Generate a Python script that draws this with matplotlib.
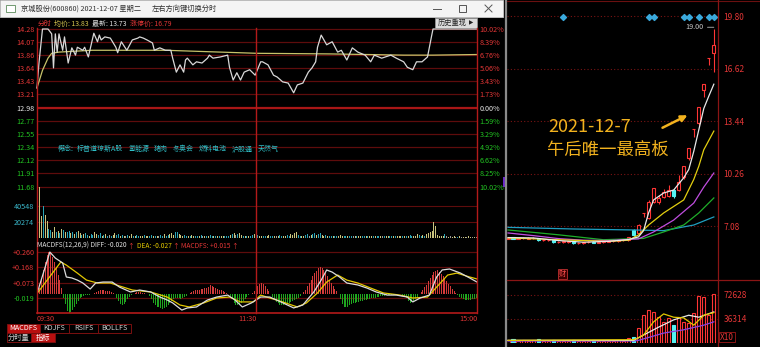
import matplotlib.pyplot as plt
import numpy as np
from matplotlib.patches import Rectangle

plt.rcParams['font.family'] = ['Noto Sans CJK SC', 'DejaVu Sans']
plt.rcParams['axes.unicode_minus'] = False

# ---------------- intraday data (minute 0 = 09:30, 240 = 15:00) ----------------
pre_close = 12.98
price_t = [0, 1, 3, 6, 8, 9, 10, 11, 12, 14, 15, 17, 19, 21, 22, 25, 26, 28, 31, 33,
           34, 35, 37, 40, 43, 44, 46, 49, 52, 55, 56, 58, 60, 63, 64, 67, 70, 73, 74, 76,
           78, 80, 81, 82, 85, 87, 90, 93, 94, 96, 100, 104, 105, 107, 109, 111, 113, 116, 119, 122,
           123, 126, 129, 131, 134, 137, 140, 142, 145, 148, 150, 152, 153, 155, 158, 161, 164, 166, 169, 172,
           175, 179, 182, 184, 188, 193, 196, 200, 202, 205, 207, 210, 213, 215, 216, 240]
price_v = [13.31, 13.70, 14.28, 14.28, 14.20, 13.64, 14.20, 13.90, 14.20, 13.93, 14.15, 13.72, 13.97, 13.85, 13.98, 13.93, 13.98, 13.82, 14.21, 14.07,
           14.18, 14.10, 14.15, 14.13, 13.98, 13.89, 14.07, 13.93, 14.10, 14.13, 14.15, 14.13, 14.10, 14.05, 13.93, 13.97, 13.93, 13.93, 13.80, 13.57,
           13.69, 13.57, 13.77, 13.80, 13.69, 13.74, 13.72, 13.80, 13.85, 13.80, 13.82, 13.85, 13.65, 13.44, 13.56, 13.44, 13.57, 13.61, 13.52, 13.74,
           13.74, 13.69, 13.52, 13.49, 13.41, 13.39, 13.23, 13.36, 13.39, 13.57, 13.64, 13.74, 13.98, 14.18, 14.02, 14.07, 13.90, 13.93, 13.77, 13.97,
           13.90, 13.85, 13.74, 13.85, 13.80, 13.85, 13.80, 13.74, 13.65, 13.61, 13.74, 13.74, 13.82, 14.13, 14.28, 14.28]
avg_t = [0, 3, 6, 8, 12, 30, 70, 120, 160, 200, 216, 240]
avg_v = [13.31, 13.60, 13.80, 13.88, 13.90, 13.93, 13.93, 13.88, 13.87, 13.85, 13.85, 13.86]

# minute volume, thousands
vol = [20, 64, 28, 41, 29, 22, 12, 10, 8, 14, 7, 9, 6, 12, 10, 8, 7, 9, 6, 8,
       5, 7, 9, 6, 4, 5, 6, 4, 3, 5, 4, 7, 5, 4, 6, 3, 4, 5, 3, 4,
       3, 4, 6, 4, 5, 3, 4, 2, 3, 4, 3, 5, 2, 3, 4, 3, 2, 3, 4, 2,
       3, 2, 4, 3, 2, 3, 2, 4, 3, 5, 3, 4, 5, 6, 4, 7, 8, 5, 4, 3,
       4, 3, 2, 3, 4, 2, 3, 2, 3, 4, 2, 3, 3, 2, 4, 3, 2, 3, 2, 3,
       2, 3, 2, 3, 2, 4, 5, 6, 4, 5, 6, 4, 3, 2, 3, 2, 3, 4, 5, 7,
       4, 3, 2, 3, 2, 3, 4, 2, 3, 2, 3, 2, 4, 3, 2, 3, 4, 3, 5, 4,
       6, 7, 4, 3, 2, 3, 4, 5, 3, 4, 5, 6, 4, 5, 6, 4, 3, 4, 3, 2,
       3, 2, 3, 2, 3, 4, 2, 3, 2, 3, 2, 2, 3, 2, 3, 2, 3, 2, 2, 3,
       2, 3, 2, 2, 3, 2, 2, 3, 2, 3, 2, 2, 3, 2, 2, 3, 2, 2, 3, 2,
       2, 3, 2, 4, 3, 2, 3, 5, 4, 3, 4, 3, 5, 6, 7, 9, 20, 15, 4, 2,
       3, 2, 5, 2, 1, 2, 1, 2, 1, 1, 2, 1, 1, 1, 1, 2, 1, 1, 1, 1]
vol_dir = "".join("""uuudu udduu dudud uddud uduud uddud duudd udude
duudd udued uudud duudu uddud ueddu dduuu dduuu
ddudu uddud eudud dudud uuddd udued uudud uddud
duudd uuddu euddu udduu uuddu uddeu ddudd uudud
duddu uuddu ddeud uuddu duudu ddued uuddu duuud
ududd uuudd uduuu uuuuu uudeu euued ueuue uueue""".split())

# MACD histogram (x 0.001), DIFF and DEA
macd_hist = [10, 40, 90, 150, 200, 240, 260, 255, 230, 200, 160, 120, 90, 40, -20, -60, -100, -117, -110, -95,
             -80, -60, -40, -25, -15, -8, -5, -3, -2, 2, 5, 10, 15, 20, 25, 28, 25, 22, 20, 18,
             15, 10, 5, -20, -40, -60, -67, -60, -45, -30, -15, -5, 5, 10, 12, 15, 12, 10, 8, 5,
             2, -10, -30, -50, -65, -75, -80, -85, -88, -85, -75, -65, -50, -40, -30, -25, -20, -25, -30, -20,
             -15, -10, 5, 10, 15, 20, 25, 28, 30, 32, 35, 38, 42, 48, 55, 52, 45, 40, 35, 30,
             25, 20, 15, 10, 5, -10, -30, -50, -65, -67, -60, -50, -40, -30, -15, -5, 5, 10, 20, 35,
             50, 65, 73, 65, 50, 35, 20, 5, -15, -30, -45, -55, -62, -67, -65, -60, -55, -50, -45, -40,
             -35, -30, -20, -10, 0, 15, 30, 50, 70, 90, 110, 130, 145, 160, 168, 165, 150, 130, 110, 90,
             70, 50, 35, 20, 5, -30, -60, -75, -80, -75, -65, -60, -55, -50, -45, -45, -40, -38, -35, -33,
             -30, -28, -25, -22, -20, -18, -15, -12, -10, -8, -5, -4, -3, -2, -1, 2, 3, 2, 1, -2,
             -10, -25, -40, -50, -48, -40, -30, -15, 5, 15, 30, 45, 60, 80, 100, 120, 135, 145, 150, 140,
             125, 110, 95, 80, 65, 50, 35, 20, 8, -5, -15, -25, -30, -33, -35, -35, -33, -30, -28, -25]
diff_t = [0, 7, 10, 14, 16, 19, 22, 25, 29, 32, 36, 41, 45, 51, 56, 62, 67, 71, 74, 79,
          82, 87, 93, 98, 104, 108, 112, 117, 122, 127, 133, 140, 145, 151, 155, 158, 161, 165, 169, 175,
          180, 185, 191, 196, 202, 205, 209, 214, 218, 221, 225, 231, 236, 240]
diff_v = [0.005, 0.260, 0.223, 0.193, 0.107, 0.101, 0.088, 0.070, 0.033, 0.070, 0.076, 0.076, 0.045, 0.015, 0.027, 0.015, -0.016, -0.034, -0.052, -0.096,
          -0.083, -0.077, -0.034, -0.016, -0.004, -0.034, -0.077, -0.052, -0.016, -0.016, -0.046, -0.083, -0.065, 0.015, 0.088, 0.150, 0.137, 0.107, 0.070, 0.058,
          0.039, 0.015, -0.004, -0.004, -0.016, -0.046, -0.022, -0.004, 0.107, 0.150, 0.156, 0.131, 0.101, 0.076]
dea_t = [0, 13, 16, 22, 27, 33, 40, 45, 52, 62, 71, 78, 83, 91, 98, 105, 111, 118, 122, 127,
         134, 142, 147, 153, 158, 164, 169, 175, 182, 189, 198, 205, 213, 218, 224, 229, 236, 240]
dea_v = [0.005, 0.199, 0.180, 0.131, 0.088, 0.070, 0.070, 0.052, 0.027, 0.015, -0.016, -0.065, -0.077, -0.052, -0.022, -0.016, -0.046, -0.046, -0.004, -0.022,
         -0.046, -0.077, -0.052, 0.009, 0.076, 0.119, 0.088, 0.070, 0.039, 0.009, -0.004, -0.022, -0.016, 0.045, 0.119, 0.131, 0.107, 0.095]

price_ticks = [14.28, 14.07, 13.86, 13.64, 13.43, 13.21, 12.98, 12.77, 12.55, 12.34, 12.12, 11.91, 11.68]
pct_labels = ['10.02%', '8.39%', '6.76%', '5.06%', '3.43%', '1.73%', '0.00%',
              '1.59%', '3.29%', '4.92%', '6.62%', '8.25%', '10.02%']
vol_ticks = [20.274, 40.548]
vol_labels = ['20274', '40548']
macd_ticks = [0.260, 0.168, 0.073, -0.019]
macd_labels = ['+0.260', '+0.168', '+0.073', '-0.019']

# ---------------- daily k-line data ----------------
k_open = [6.30, 6.40, 6.31, 6.34, 6.32, 6.35, 6.37, 6.21, 6.24, 6.25, 6.10, 6.13, 6.11, 6.15, 6.03, 6.07, 6.09, 6.14, 6.08, 6.12, 6.14,
          6.16, 6.18, 6.21, 6.24, 6.84, 6.66, 7.85, 7.56, 8.53, 8.52, 8.84, 8.90, 9.26, 9.27, 10.05, 11.20, 12.98, 13.33, 15.32, 17.28, 17.56]
k_high = [6.42, 6.43, 6.38, 6.41, 6.40, 6.39, 6.38, 6.28, 6.29, 6.26, 6.17, 6.20, 6.18, 6.16, 6.10, 6.12, 6.16, 6.20, 6.15, 6.18, 6.20,
          6.22, 6.25, 6.28, 6.42, 6.92, 7.19, 7.85, 8.64, 9.40, 8.95, 9.30, 9.56, 9.35, 10.15, 10.73, 11.80, 12.98, 14.28, 15.71, 17.28, 19.00]
k_low = [6.27, 6.28, 6.27, 6.30, 6.29, 6.28, 6.20, 6.17, 6.18, 6.08, 6.05, 6.08, 6.06, 6.00, 5.99, 6.02, 6.05, 6.05, 6.04, 6.08, 6.10,
         6.11, 6.14, 6.17, 6.20, 6.50, 6.60, 7.63, 7.48, 8.45, 8.40, 8.78, 8.82, 8.80, 9.20, 9.95, 11.10, 12.50, 13.20, 14.90, 16.83, 16.40]
k_close = [6.38, 6.31, 6.35, 6.37, 6.36, 6.37, 6.22, 6.25, 6.26, 6.10, 6.14, 6.16, 6.15, 6.03, 6.08, 6.10, 6.13, 6.08, 6.12, 6.15, 6.17,
           6.19, 6.22, 6.24, 6.39, 6.54, 7.14, 7.85, 8.53, 9.38, 8.78, 9.14, 9.26, 8.87, 9.75, 10.73, 11.80, 12.98, 14.28, 15.71, 17.28, 18.04]
k_vol = [4, 6, 3, 4, 3, 4, 6, 3, 3, 5, 3, 3, 3, 5, 3, 3, 3, 5, 3, 3, 3,
         3, 4, 3, 7, 9, 22, 42, 50, 47, 39, 32, 38, 27, 39, 32, 30, 45, 71, 70, 42, 74]
ma5_pts = [(0, 6.38), (5, 6.36), (10, 6.20), (15, 6.10), (20, 6.15), (24, 6.26), (26, 6.42), (27, 6.80), (28, 7.87),
           (29, 8.66), (31, 9.08), (33, 9.26), (35, 10.0), (36, 10.5), (37, 11.6), (38, 12.9), (39, 14.2), (40, 14.95), (41, 15.67)]
ma10_pts = [(0, 6.36), (10, 6.25), (20, 6.15), (24, 6.22), (26, 6.54), (28, 7.14), (31, 7.87), (35, 8.66), (37, 9.9),
            (38, 10.7), (39, 11.7), (41, 12.83)]
ma20_pts = [(0, 6.66), (5, 6.50), (10, 6.32), (15, 6.22), (20, 6.20), (26, 6.30), (29, 6.72), (33, 7.44), (37, 8.47),
            (39, 9.44), (41, 10.29)]
ma30_pts = [(0, 6.84), (10, 6.55), (19, 6.25), (27, 6.33), (31, 6.72), (35, 7.14), (38, 7.87), (41, 8.78)]
ma60_pts = [(0, 7.00), (13, 6.90), (25, 6.84), (31, 6.80), (37, 7.14), (41, 7.63)]
vma5_pts = [(0, 4), (25, 5), (26, 8), (27, 12), (29, 32), (31, 44), (33, 39), (35, 38), (37, 27), (39, 42), (41, 46)]
vma10_pts = [(0, 4), (25, 4), (26, 8), (30, 24), (33, 35), (36, 42), (38, 39), (41, 47)]
vma20_pts = [(0, 3), (25, 3), (26, 4), (31, 15), (35, 20), (39, 27), (41, 32)]
signal_idx = [11, 28, 29, 35, 36, 38, 40, 41]
k_ticks = [19.80, 16.62, 13.44, 10.26, 7.08]
kv_ticks = [72.628, 36.314]

# ---------------- figure ----------------
W, H = 760, 347
fig = plt.figure(figsize=(7.6, 3.47), dpi=100, facecolor='black')
FS = 5.2
GRID = '#5e0c0c'
FRAME = '#b31a1a'
UPR = '#e23636'
DNG = '#22c322'


def box(x0, y0, x1, y1):
    return [x0 / W, 1 - y1 / H, (x1 - x0) / W, (y1 - y0) / H]


def clean(ax):
    for s in ax.spines.values():
        s.set_visible(False)
    ax.set_xticks([])
    ax.tick_params(axis='y', length=0, pad=2, labelsize=FS)


# intraday price
ax_p = fig.add_axes(box(37, 29, 477, 187), facecolor='none')
ax_p.set_xlim(0, 240)
ax_p.set_ylim(11.68, 14.28)
for v in price_ticks:
    ax_p.axhline(v, color=GRID, lw=0.9, zorder=0, clip_on=False)
ax_p.axhline(pre_close, color='#a81616', lw=1.6, zorder=0)
ax_p.plot(avg_t, avg_v, color='#c8c36a', lw=0.9, clip_on=False)
ax_p.plot(price_t, price_v, color='#d8d8d8', lw=0.9, clip_on=False)
clean(ax_p)
ax_p.set_yticks(price_ticks)
ax_p.set_yticklabels(['%.2f' % v for v in price_ticks])
pcol = [UPR] * 6 + ['#e8e8e8'] + [DNG] * 6
for lab, c in zip(ax_p.get_yticklabels(), pcol):
    lab.set_color(c)
ax_r = ax_p.twinx()
ax_r.set_ylim(11.68, 14.28)
clean(ax_r)
ax_r.set_yticks(price_ticks)
ax_r.set_yticklabels(pct_labels)
for lab, c in zip(ax_r.get_yticklabels(), pcol):
    lab.set_color(c)

# intraday volume
ax_v = fig.add_axes(box(37, 187, 477, 238), facecolor='none')
ax_v.set_xlim(0, 240)
ax_v.set_ylim(0, 64.6)
for v in vol_ticks:
    ax_v.axhline(v, color=GRID, lw=0.8, zorder=0)
cmap = {'u': '#c9c27c', 'd': '#2aa3b5', 'e': '#9a9a9a'}
vcols = [cmap[c] for c, _ in zip(vol_dir, vol)]
ax_v.bar(np.arange(len(vcols)) + 0.5, vol[:len(vcols)], width=0.6, color=vcols)
clean(ax_v)
ax_v.set_yticks(vol_ticks)
ax_v.set_yticklabels(vol_labels, color='#3ab6c9')

# MACD
ax_m = fig.add_axes(box(37, 240, 477, 313), facecolor='none')
ax_m.set_xlim(0, 240)
ax_m.set_ylim(-0.114, 0.334)
for v in macd_ticks:
    ax_m.axhline(v, color=GRID, lw=0.9, zorder=0)
ax_m.axhline(-0.114, color=FRAME, lw=1.2, clip_on=False)
hist = np.array(macd_hist) / 1000.0
ax_m.bar(np.arange(len(hist)) + 0.5, hist, width=0.6,
         color=np.where(hist >= 0, '#d23a3a', '#1fa51f'))
ax_m.plot(dea_t, dea_v, color='#e3c800', lw=0.9)
ax_m.plot(diff_t, diff_v, color='#dcdcdc', lw=0.9)
clean(ax_m)
ax_m.set_yticks(macd_ticks)
ax_m.set_yticklabels(macd_labels)
for lab, c in zip(ax_m.get_yticklabels(), [UPR, UPR, UPR, DNG]):
    lab.set_color(c)
ax_m.text(0, -0.128, '09:30', color=UPR, fontsize=FS, ha='left', va='top')
ax_m.text(120, -0.128, '11:30', color=UPR, fontsize=FS, ha='right', va='top')
ax_m.text(240, -0.128, '15:00', color=UPR, fontsize=FS, ha='right', va='top')

# daily k-line
ax_k = fig.add_axes(box(507, 1, 718, 280), facecolor='none')
ax_k.set_xlim(-0.2, 41.83)
ax_k.set_ylim(3.81, 20.71)
for v in k_ticks:
    ax_k.axhline(v, color='#7a1414', lw=0.8, ls=(0, (1, 2)), zorder=0)
idx = np.arange(len(k_close))
up = np.array(k_close) >= np.array(k_open)
kcol = np.where(up, '#ff3535', '#54f2f2')
ax_k.vlines(idx, k_low, k_high, colors=kcol, lw=0.8, zorder=1)
ax_k.bar(idx, np.abs(np.array(k_close) - np.array(k_open)), bottom=np.minimum(k_open, k_close),
         width=0.62, facecolor=np.where(up, 'black', '#54f2f2'), edgecolor=kcol, lw=0.8, zorder=2)
for pts, c in [(ma60_pts, '#1f9fc0'), (ma30_pts, '#1fae2a'), (ma20_pts, '#c04ee0'),
               (ma10_pts, '#e3cf10'), (ma5_pts, '#e8e8e8')]:
    ax_k.plot([p[0] for p in pts], [p[1] for p in pts], color=c, lw=0.9, zorder=3)
ax_k.scatter(signal_idx, [19.72] * len(signal_idx), marker='D', s=9, color='#3aa9dc', zorder=4, clip_on=False)
ax_k.annotate('19.00', xy=(41, 19.12), xytext=(38.9, 19.12), color='#c8c8c8', fontsize=FS,
              ha='right', va='center',
              arrowprops=dict(arrowstyle='-', color='#bbbbbb', lw=0.6, shrinkA=1, shrinkB=0))
ax_k.text(10.9, 4.17, '财', color='#ff5050', fontsize=FS, ha='center', va='center',
          bbox=dict(boxstyle='square,pad=0.15', fc='#3a0000', ec='#c03030', lw=0.6))
for s in ax_k.spines.values():
    s.set_visible(False)
ax_k.set_xticks([])
ax_k.yaxis.tick_right()
ax_k.set_yticks(k_ticks)
ax_k.set_yticklabels(['%.2f' % v for v in k_ticks], color=UPR)
ax_k.tick_params(axis='y', length=0, pad=4, labelsize=6)

ax_kv = fig.add_axes(box(507, 280, 718, 343), facecolor='none')
ax_kv.set_xlim(-0.2, 41.83)
ax_kv.set_ylim(0, 95.3)
for v in kv_ticks:
    ax_kv.axhline(v, color='#7a1414', lw=0.8, ls=(0, (1, 2)), zorder=0)
kvi = np.arange(len(k_vol))
ax_kv.bar(kvi, k_vol, width=0.62, facecolor=np.where(up, 'black', '#54f2f2'), edgecolor=kcol, lw=0.8)
for pts, c in [(vma20_pts, '#8a44e0'), (vma10_pts, '#e8e8e8'), (vma5_pts, '#e3c800')]:
    ax_kv.plot([p[0] for p in pts], [p[1] for p in pts], color=c, lw=0.9)
for s in ax_kv.spines.values():
    s.set_visible(False)
ax_kv.set_xticks([])
ax_kv.yaxis.tick_right()
ax_kv.set_yticks(kv_ticks)
ax_kv.set_yticklabels(['72628', '36314'], color=UPR)
ax_kv.tick_params(axis='y', length=0, pad=4, labelsize=6)
ax_kv.text(1.01, 9, 'X10', transform=ax_kv.get_yaxis_transform(), color=UPR, fontsize=6,
           ha='left', va='center', bbox=dict(boxstyle='square,pad=0.1', fc='none', ec='#a01818', lw=0.6))

# ---------------- overlay: window chrome, labels, tabs ----------------
ov = fig.add_axes([0, 0, 1, 1], facecolor='none')
ov.set_xlim(0, W)
ov.set_ylim(H, 0)
ov.axis('off')
renderer = fig.canvas.get_renderer()


def run_text(x, y, parts, fs=FS):
    # lay coloured pieces out one after another on a line
    for s, c, g in parts:
        t = ov.text(x, y, s, color=c, fontsize=fs, va='center')
        x += t.get_window_extent(renderer).width + g


ov.add_patch(Rectangle((0, 0), 503, 17, fc='#f4f4f4', ec='#c8c8c8', lw=0.6))
ov.add_patch(Rectangle((6, 5), 9, 7, fc='#ffffff', ec='#5a8a5a', lw=0.6))
ov.text(21, 8.5, '京城股份(600860) 2021-12-07 星期二', color='#303030', fontsize=FS, va='center')
ov.text(152, 8.5, '左右方向键切换分时', color='#303030', fontsize=FS, va='center')
ov.plot([433, 441], [8.5, 8.5], color='#555555', lw=0.7)
ov.add_patch(Rectangle((459, 5), 7, 7, fc='none', ec='#555555', lw=0.7))
ov.plot([485, 492], [5, 12], color='#555555', lw=0.7)
ov.plot([485, 492], [12, 5], color='#555555', lw=0.7)

# frame lines
for x in (37, 256, 477):
    ov.plot([x, x], [28, 313], color=FRAME, lw=1.0)
ov.plot([506, 506], [0, 347], color='#8a8a8a', lw=1.6)
ov.plot([507, 760], [1, 1], color='#6a1010', lw=0.8)
ov.plot([718, 718], [0, 347], color='#8a1515', lw=0.9)
ov.plot([507, 760], [280, 280], color='#8a1515', lw=0.9)
ov.add_patch(Rectangle((503, 177), 4, 10, fc='#6a28c8', ec='none'))

# header of intraday chart
run_text(38, 23.5, [('分时', UPR, 2.5), ('均价: 13.83', '#d8c850', 3), ('最新: 13.73', '#e0e0e0', 3),
                    ('涨停价: 16.79', UPR, 0)], fs=5)
ov.add_patch(Rectangle((435, 18), 42, 10, fc='#dcdcdc', ec='#9a9a9a', lw=0.5))
ov.text(438, 23, '历史重现', color='#202020', fontsize=FS, va='center')
ov.text(469, 23, '▶', color='#202020', fontsize=4, va='center', family='DejaVu Sans')

run_text(58, 149, [('概念:', '#2fc0c8', 3), ('标普道琼斯A股', '#2fc0c8', 5), ('氢能源', '#2fc0c8', 5),
                   ('猪肉', '#2fc0c8', 5), ('冬奥会', '#2fc0c8', 5), ('燃料电池', '#2fc0c8', 5),
                   ('沪股通', '#2fc0c8', 5), ('天然气', '#2fc0c8', 0)], fs=5)

run_text(37, 246, [('MACDFS(12,26,9) DIFF: -0.020', '#e0e0e0', 0.3), ('↑', UPR, 3),
                   ('DEA: -0.027', '#e3c800', 0.3), ('↑', UPR, 3),
                   ('MACDFS: +0.015', UPR, 0.3), ('↑', UPR, 0)], fs=4.8)

# bottom tabs
tabs = [(7, 40, 'MACDFS', True), (40, 69, 'KDJFS', False), (69, 98, 'RSIFS', False), (98, 131, 'BOLLFS', False)]
for x0, x1, s, on in tabs:
    ov.add_patch(Rectangle((x0, 324), x1 - x0, 9, fc='#b80f0f' if on else 'black', ec='#7a1010', lw=0.7))
    ov.text((x0 + x1) / 2, 328.5, s, color='white' if on else '#d0d0d0', fontsize=FS, ha='center', va='center')
for x0, x1, s, on in [(7, 31, '分时量', False), (31, 55, '指标', True)]:
    ov.add_patch(Rectangle((x0, 333), x1 - x0, 9, fc='#b80f0f' if on else 'black', ec='#7a1010', lw=0.7))
    ov.text((x0 + x1) / 2, 337.5, s, color='white' if on else '#d0d0d0', fontsize=FS, ha='center', va='center')

# annotation
GOLD = '#f2b21e'
ov.text(548, 127, '2021-12-7', color=GOLD, fontsize=13, va='center')
ov.text(547, 150, '午后唯一最高板', color=GOLD, fontsize=12.5, va='center')
ov.annotate('', xy=(690, 114), xytext=(660, 129),
            arrowprops=dict(arrowstyle='-|>', color=GOLD, lw=1.8, mutation_scale=9))

fig.savefig('out.png', dpi=100, facecolor='black')
